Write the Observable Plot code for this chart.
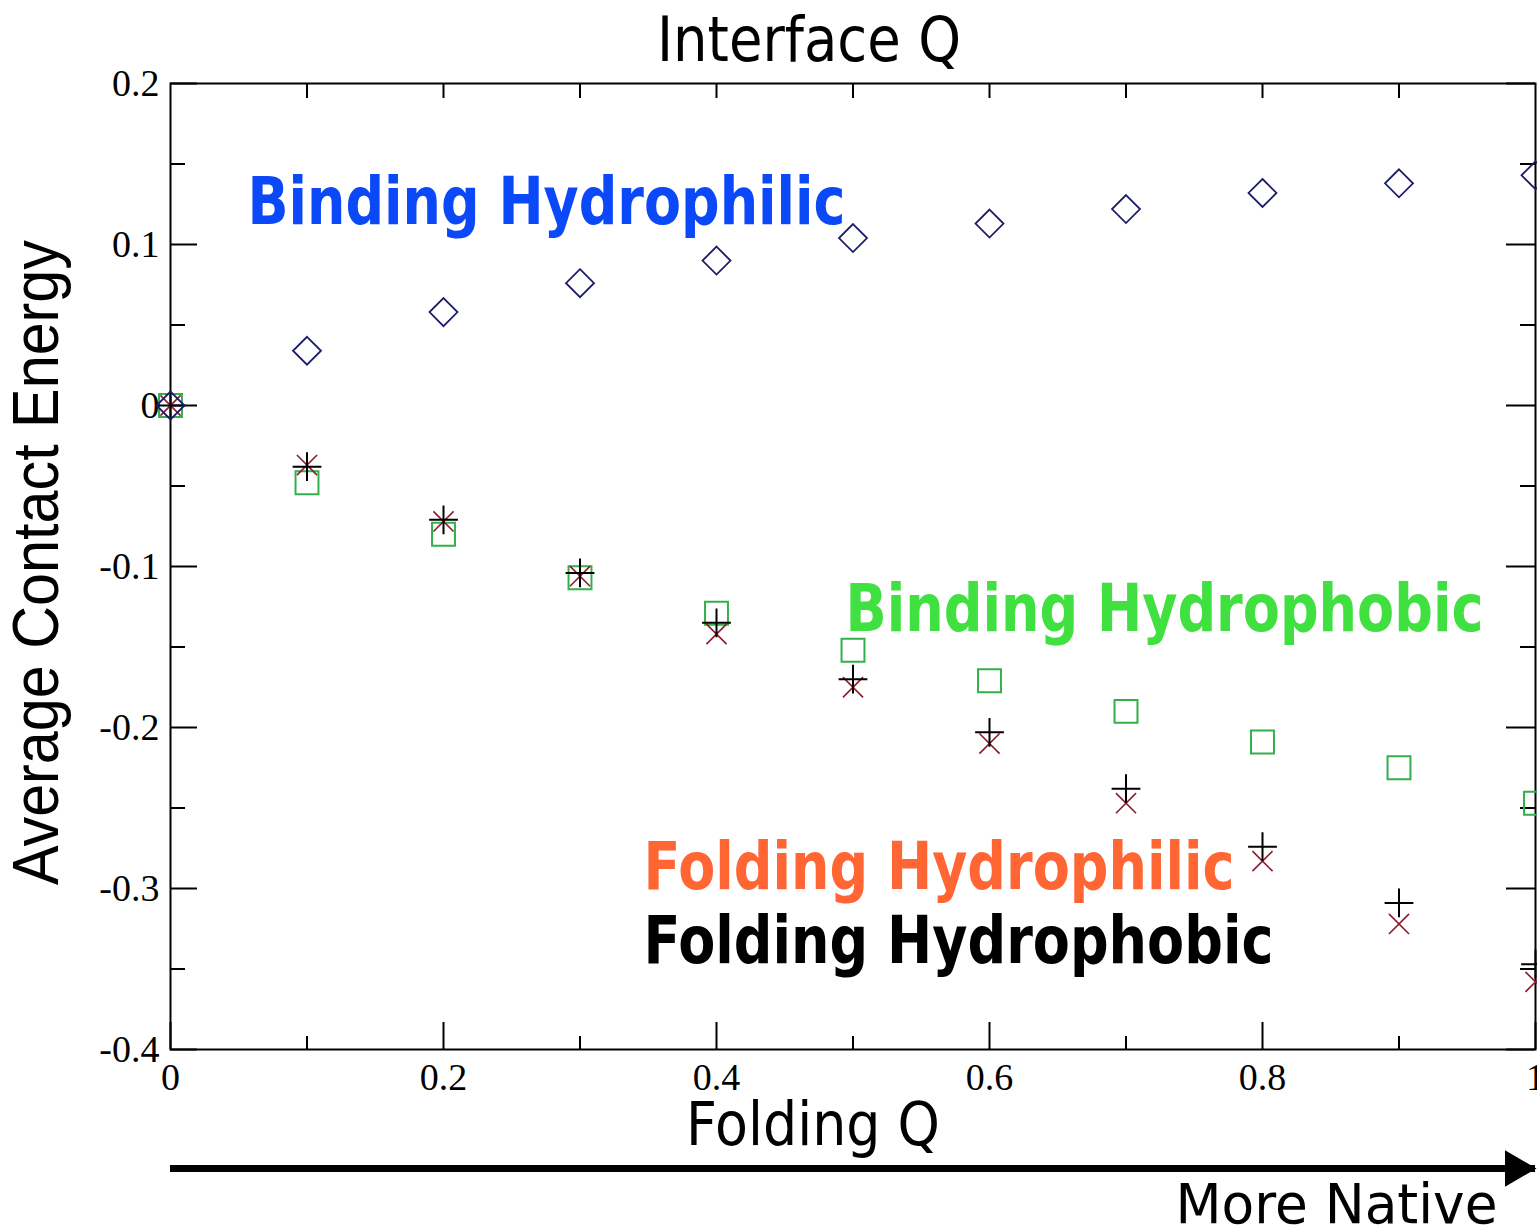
<!DOCTYPE html>
<html>
<head>
<meta charset="utf-8">
<script src="https://cdn.jsdelivr.net/npm/d3@7"></script>
<script src="https://cdn.jsdelivr.net/npm/@observablehq/plot@0.6"></script>
<style>
  html, body { margin: 0; padding: 0; background: #ffffff; }
  #chart svg { display: block; }
</style>
</head>
<body>
<div id="chart"></div>
<script>
// ---------------- data ----------------
const foldingQ = [0, 0.1, 0.2, 0.3, 0.4, 0.5, 0.6, 0.7, 0.8, 0.9, 1.0];
const bindingHydrophilic = [0, 0.034, 0.058, 0.076, 0.090, 0.104, 0.113, 0.122, 0.132, 0.138, 0.143];
const bindingHydrophobic = [0, -0.048, -0.080, -0.107, -0.129, -0.152, -0.171, -0.190, -0.209, -0.225, -0.247];
const foldingHydrophilic = [0, -0.037, -0.072, -0.106, -0.142, -0.175, -0.210, -0.247, -0.283, -0.322, -0.358];
const foldingHydrophobic = [0, -0.038, -0.071, -0.104, -0.135, -0.170, -0.203, -0.238, -0.274, -0.309, -0.347];

const xTicks = [0, 0.2, 0.4, 0.6, 0.8, 1];
const xTickLabels = ["0", "0.2", "0.4", "0.6", "0.8", "1"];
const xMinorTicks = [0.1, 0.3, 0.5, 0.7, 0.9];
const topTicks = [0.1, 0.2, 0.3, 0.4, 0.5, 0.6, 0.7, 0.8, 0.9];
const yTicks = [-0.4, -0.3, -0.2, -0.1, 0, 0.1, 0.2];
const yTickLabels = ["-0.4", "-0.3", "-0.2", "-0.1", "0", "0.1", "0.2"];
const yMinorTicks = [-0.35, -0.25, -0.15, -0.05, 0.05, 0.15];

const annotationLabels = ["Binding Hydrophilic", "Binding Hydrophobic", "Folding Hydrophilic", "Folding Hydrophobic"];
const annotationX = [0.0564, 0.4945, 0.3465, 0.3465];
const annotationY = [0.113, -0.1398, -0.300, -0.346];

const xTitle = "Folding Q";
const topTitle = "Interface Q";
const yTitle = "Average Contact Energy";
const arrowText = "More Native";

// ---------------- styles ----------------
const W = 1537, H = 1229;
const M = {top: 83, right: 2, bottom: 180, left: 170};
const plotW = W - M.left - M.right;
const plotH = H - M.top - M.bottom;

const annotationColors = {
  "Binding Hydrophilic": "#0b48f7",
  "Binding Hydrophobic": "#40e040",
  "Folding Hydrophilic": "#ff6633",
  "Folding Hydrophobic": "#000000"
};
const textWidths = {
  "Binding Hydrophilic": 598,
  "Binding Hydrophobic": 638,
  "Folding Hydrophilic": 591,
  "Folding Hydrophobic": 630,
  "Interface Q": 304,
  "Folding Q": 254,
  "More Native": 322,
  "Average Contact Energy": 645
};

const pts = (ys) => foldingQ.map((x, i) => ({x, y: ys[i]}));
const annotations = annotationLabels.map((label, i) => ({label, x: annotationX[i], y: annotationY[i]}));
const xLabelOf = new Map(xTicks.map((v, i) => [v, xTickLabels[i]]));
const yLabelOf = new Map(yTicks.map((v, i) => [v, yTickLabels[i]]));
const arrowRow = [{x1: 0, x2: 1, y: -0.4}];

const sans = "DejaVu Sans, Verdana, sans-serif";
const serif = "Liberation Serif, Times New Roman, serif";

const chart = Plot.plot({
  width: W,
  height: H,
  marginTop: M.top,
  marginRight: M.right,
  marginBottom: M.bottom,
  marginLeft: M.left,
  style: {fontFamily: serif, fontSize: "38px", background: "#ffffff", color: "#000"},
  x: {domain: [0, 1]},
  y: {domain: [-0.4, 0.2]},
  marks: [
    // axes (labels only)
    Plot.axisX({anchor: "bottom", ticks: xTicks, tickFormat: d => xLabelOf.get(d), tickSize: 0, tickPadding: 14, label: null, fontSize: 38, fontFamily: serif}),
    Plot.axisY({anchor: "left", ticks: yTicks, tickFormat: d => yLabelOf.get(d), tickSize: 0, tickPadding: 11, label: null, fontSize: 38, fontFamily: serif}),
    // inward ticks
    Plot.ruleX(xTicks, {x: d => d, insetTop: plotH - 27, strokeWidth: 2}),
    Plot.ruleX(xMinorTicks, {x: d => d, insetTop: plotH - 13, strokeWidth: 2}),
    Plot.ruleX(topTicks, {x: d => d, insetBottom: plotH - 15, strokeWidth: 2}),
    Plot.ruleY(yTicks, {y: d => d, insetRight: plotW - 27, strokeWidth: 2}),
    Plot.ruleY(yMinorTicks, {y: d => d, insetRight: plotW - 15, strokeWidth: 2}),
    Plot.ruleY(yTicks, {y: d => d, insetLeft: plotW - 29, strokeWidth: 2}),
    Plot.ruleY(yMinorTicks, {y: d => d, insetLeft: plotW - 15, strokeWidth: 2}),
    Plot.frame({stroke: "#000", strokeWidth: 2}),
    // series
    Plot.dot(pts(bindingHydrophobic), {x: "x", y: "y", symbol: "square2", r: 14.6, stroke: "#33b04a", strokeWidth: 2, fill: "none"}),
    Plot.dot(pts(foldingHydrophilic), {x: "x", y: "y", symbol: "times", r: 9.2, stroke: "#8e1c2e", strokeWidth: 1.6}),
    Plot.dot(pts(foldingHydrophobic), {x: "x", y: "y", symbol: "plus", r: 9.3, stroke: "#000000", strokeWidth: 2}),
    Plot.dot(pts(bindingHydrophilic), {x: "x", y: "y", symbol: "diamond2", r: 12.6, stroke: "#1c1c6a", strokeWidth: 1.8, fill: "none"}),
    // annotations
    ...annotations.map(a => Plot.text([a], {
      x: "x", y: "y", text: "label", textAnchor: "start", lineAnchor: "bottom",
      fill: annotationColors[a.label], fontSize: 66, fontWeight: "bold", fontFamily: sans
    })),
    // titles
    Plot.text([topTitle], {text: d => d, frameAnchor: "top", textAnchor: "middle", dx: -44, dy: -23, lineAnchor: "bottom", fontSize: 62, fontFamily: sans}),
    Plot.text([xTitle], {text: d => d, frameAnchor: "bottom", textAnchor: "middle", dx: -40, dy: 95, lineAnchor: "bottom", fontSize: 60, fontFamily: sans}),
    Plot.text([yTitle], {text: d => d, frameAnchor: "left", textAnchor: "middle", dx: -113, dy: -4, rotate: -90, lineAnchor: "bottom", fontSize: 64, fontFamily: "Liberation Sans, Arial, sans-serif"}),
    // arrow
    Plot.ruleY(arrowRow, {y: "y", x1: "x1", x2: "x2", dy: 119, strokeWidth: 7, stroke: "#000"}),
    Plot.dot(arrowRow, {x: "x2", y: "y", dy: 119, dx: -20, symbol: "triangle", rotate: 90, r: 13.5, fill: "#000", stroke: "none"}),
    Plot.text([arrowText], {text: d => d, frameAnchor: "bottom-right", textAnchor: "end", dx: -38, dy: 173, lineAnchor: "bottom", fontSize: 56, fontFamily: sans})
  ]
});

// compress text widths to match the reference's condensed lettering
d3.select(chart).selectAll("text").each(function() {
  const t = this.textContent;
  if (textWidths[t] != null) {
    this.setAttribute("textLength", textWidths[t]);
    this.setAttribute("lengthAdjust", "spacingAndGlyphs");
  }
});

document.getElementById("chart").appendChild(chart);
</script>
</body>
</html>
